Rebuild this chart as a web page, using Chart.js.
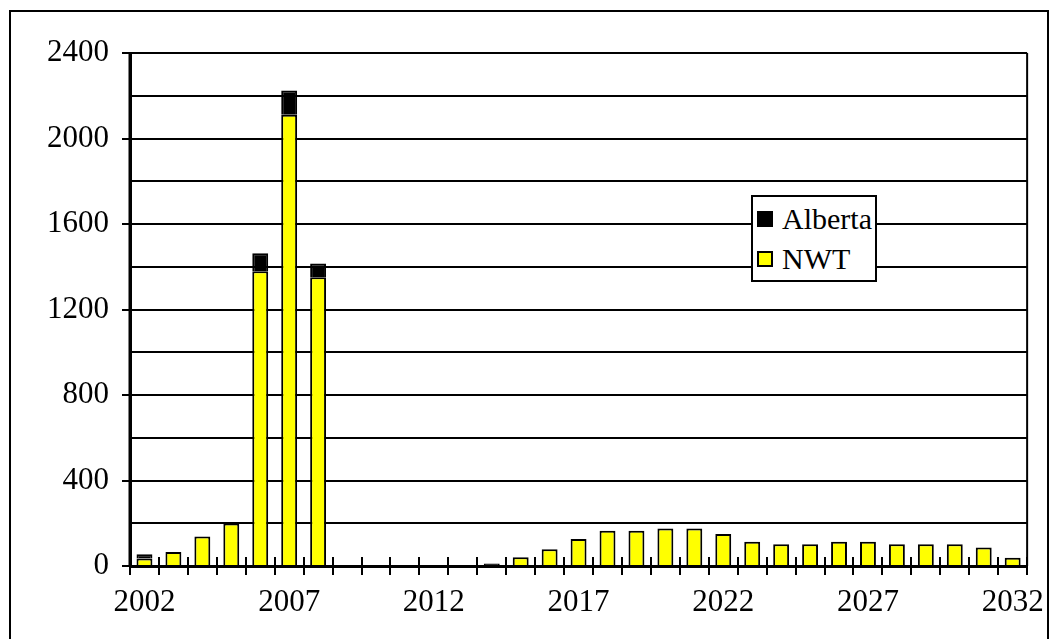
<!DOCTYPE html>
<html>
<head>
<meta charset="utf-8">
<script src="https://cdn.jsdelivr.net/npm/chart.js@4/dist/chart.umd.min.js"></script>
<style>
  html, body { margin: 0; padding: 0; background: #fff; overflow: hidden; }
  #wrap { position: relative; width: 1053px; height: 639px; }
  #frame { position: absolute; left: 9px; top: 10px; width: 1040px; height: 640px; border: 2px solid #000; box-sizing: border-box; pointer-events: none; }
  #legend { position: absolute; left: 751px; top: 195px; width: 126px; height: 87px; background: #fff; border: 2px solid #000; box-sizing: border-box; font-family: "Liberation Serif", "Times New Roman", serif; font-size: 30px; color: #000; }
  .item { position: absolute; left: 4px; height: 36px; line-height: 36px; white-space: nowrap; }
  .sw { display: inline-block; width: 16px; height: 16px; box-sizing: border-box; border: 2px solid #000; vertical-align: middle; margin-right: 9px; position: relative; top: -3px; }
</style>
</head>
<body>
<div id="wrap">
  <canvas id="c" width="1053" height="639"></canvas>
  <div id="frame"></div>
  <div id="legend"></div>
</div>
<script>
// Years on the category axis
const years = [];
for (let y = 2002; y <= 2032; y++) years.push(String(y));

// NWT volumes per year (bottom of each stack)
const nwt = [35, 65, 138, 199, 1379, 2111, 1351, 0, 0, 0, 0, 0, 0, 41, 78,
             126, 165, 165, 176, 176, 150, 114, 102, 102, 114, 114, 102, 102, 102, 87, 39];
// Alberta volumes per year (stacked on top)
const alberta = [20, 0, 0, 0, 84, 113, 64, 0, 0, 0, 0, 0, 12, 0, 0,
                 0, 0, 0, 0, 0, 0, 0, 0, 0, 0, 0, 0, 0, 0, 0, 0];

const seriesNames = { alberta: 'Alberta', nwt: 'NWT' };
const yTickValues = [0, 400, 800, 1200, 1600, 2000, 2400];

const FONT = '"Liberation Serif", "Times New Roman", serif';

// Plot border on the right plus tick marks that cross the category axis
const axisDecor = {
  id: 'axisDecor',
  afterDraw(chart) {
    const { ctx, chartArea } = chart;
    const xs = chart.scales.x;
    ctx.save();
    ctx.strokeStyle = '#000';
    ctx.lineWidth = 2;
    ctx.beginPath();
    ctx.moveTo(chartArea.right, chartArea.top);
    ctx.lineTo(chartArea.right, chartArea.bottom);
    ctx.stroke();
    const n = years.length;
    const step = (xs.right - xs.left) / n;
    ctx.beginPath();
    for (let i = 0; i <= n; i++) {
      const x = Math.round(xs.left + i * step);
      ctx.moveTo(x, chartArea.bottom - 9);
      ctx.lineTo(x, chartArea.bottom);
    }
    ctx.stroke();
    // keep the value axis line solid black on top
    ctx.lineWidth = 3;
    ctx.beginPath();
    ctx.moveTo(chartArea.left, chartArea.top);
    ctx.lineTo(chartArea.left, chartArea.bottom + 1);
    ctx.stroke();
    ctx.restore();
  }
};

const chart = new Chart(document.getElementById('c'), {
  type: 'bar',
  data: {
    labels: years,
    datasets: [
      { label: seriesNames.nwt, data: nwt, backgroundColor: '#FFFF00', borderColor: '#000', borderWidth: 2 },
      { label: seriesNames.alberta, data: alberta, backgroundColor: '#000', borderColor: '#000', borderWidth: 2 }
    ]
  },
  options: {
    responsive: false,
    devicePixelRatio: 1,
    animation: false,
    layout: { padding: { left: 0, top: 53, right: 21, bottom: 23 } },
    datasets: { bar: { categoryPercentage: 1, barPercentage: 0.55 } },
    plugins: { legend: { display: false }, tooltip: { enabled: false } },
    scales: {
      x: {
        stacked: true,
        offset: true,
        grid: { display: true, drawOnChartArea: false, offset: true, tickLength: 9, color: '#000', lineWidth: 2 },
        border: { display: true, color: '#000', width: 3 },
        ticks: {
          autoSkip: false, maxRotation: 0, color: '#000', padding: 9,
          font: { family: FONT, size: 31 },
          callback: (v, i) => (i % 5 === 0 ? years[i] : '')
        },
        afterFit: s => { s.height = 50; }
      },
      y: {
        stacked: true,
        min: 0, max: 2400,
        ticks: {
          stepSize: 200, color: '#000', padding: 13,
          font: { family: FONT, size: 31 },
          callback: v => (yTickValues.includes(v) ? String(v) : '')
        },
        grid: {
          color: '#000', lineWidth: 2, tickLength: 8,
          tickColor: c => (c.tick && yTickValues.includes(c.tick.value) ? '#000' : 'rgba(0,0,0,0)')
        },
        border: { display: true, color: '#000', width: 3 },
        afterFit: s => { s.width = 130; }
      }
    }
  },
  plugins: [axisDecor]
});

// Legend box (stack order reversed: top series first)
const legend = document.getElementById('legend');
const entries = [
  { name: seriesNames.alberta, fill: '#000' },
  { name: seriesNames.nwt, fill: '#FFFF00' }
];
entries.forEach((e, i) => {
  const d = document.createElement('div');
  d.className = 'item';
  d.style.top = (4 + i * 40) + 'px';
  const sw = document.createElement('span');
  sw.className = 'sw';
  sw.style.background = e.fill;
  d.appendChild(sw);
  d.appendChild(document.createTextNode(e.name));
  legend.appendChild(d);
});
</script>
</body>
</html>
